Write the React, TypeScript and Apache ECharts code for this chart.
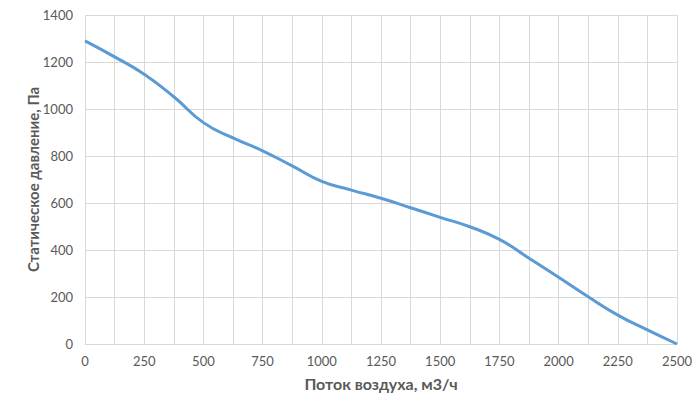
import React, { useEffect, useRef } from "react";
import * as echarts from "echarts";

const flow = [0, 125, 250, 375, 500, 625, 750, 875, 1000, 1125, 1250, 1375, 1500, 1625, 1750, 1875, 2000, 2125, 2250, 2375, 2500];
const pressure = [1290, 1222, 1148, 1052, 942, 877, 822, 758, 692, 655, 620, 580, 539, 499, 445, 365, 284, 201, 123, 60, 0];
const xTitle = "Поток воздуха, м3/ч";
const yTitle = "Статическое давление, Па";

export default function App() {
  const ref = useRef<HTMLDivElement>(null);
  useEffect(() => {
    if (!ref.current) return;
    const chart = echarts.init(ref.current, null, { renderer: "svg" });
    const font = "Lato, 'Open Sans', sans-serif";
    chart.setOption({
      animation: false,
      grid: { left: 85, right: 23, top: 15, bottom: 69 },
      xAxis: {
        type: "value",
        min: 0,
        max: 2500,
        interval: 125,
        name: xTitle,
        nameLocation: "middle",
        nameGap: 31,
        nameTextStyle: { color: "#595959", fontSize: 16, fontWeight: "bold", fontFamily: font },
        axisLine: { show: true, lineStyle: { color: "#d9d9d9" } },
        axisTick: { show: false },
        axisLabel: {
          color: "#595959",
          fontSize: 13,
          fontFamily: font,
          margin: 10,
          formatter: (v: number) => (v % 250 === 0 ? String(v) : ""),
        },
        splitLine: { show: true, lineStyle: { color: "#d9d9d9", width: 1 } },
      },
      yAxis: {
        type: "value",
        min: 0,
        max: 1400,
        interval: 200,
        name: yTitle,
        nameLocation: "middle",
        nameGap: 45,
        nameMoveOverlap: false,
        nameTextStyle: { color: "#595959", fontSize: 15, fontWeight: "bold", fontFamily: font },
        axisLine: { show: false },
        axisTick: { show: false },
        axisLabel: {
          color: "#595959",
          fontSize: 13,
          fontFamily: font,
          margin: 12,
          formatter: (v: number) => String(v),
        },
        splitLine: { show: true, lineStyle: { color: "#d9d9d9", width: 1 } },
      },
      series: [
        {
          type: "line",
          data: flow.map((x, i) => [x, pressure[i]]),
          smooth: 0.5,
          showSymbol: false,
          lineStyle: { color: "#5B9BD5", width: 3 },
        },
      ],
    });
    return () => chart.dispose();
  }, []);
  return <div ref={ref} style={{ width: 700, height: 413, marginLeft: -8, marginTop: -8 }} />;
}
